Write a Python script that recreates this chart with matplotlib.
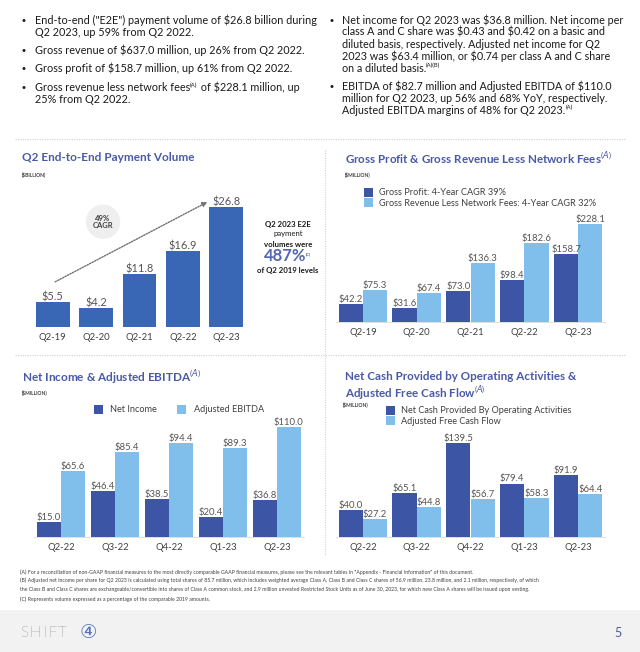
import matplotlib
matplotlib.use("Agg")
import matplotlib.pyplot as plt
from matplotlib.patches import Rectangle
from matplotlib.lines import Line2D
import numpy as np

plt.rcParams['font.family'] = ['Lato', 'DejaVu Sans']
plt.rcParams['mathtext.fontset'] = 'custom'
plt.rcParams['mathtext.rm'] = 'Lato'

W, H = 640, 652

# data
vol_q = ['Q2-19', 'Q2-20', 'Q2-21', 'Q2-22', 'Q2-23']
vol = [5.5, 4.2, 11.8, 16.9, 26.8]

gp_q = ['Q2-19', 'Q2-20', 'Q2-21', 'Q2-22', 'Q2-23']
gross_profit = [42.2, 31.6, 73.0, 98.4, 158.7]
gross_rev_less_fees = [75.3, 67.4, 136.3, 182.6, 228.1]

qtr = ['Q2-22', 'Q3-22', 'Q4-22', 'Q1-23', 'Q2-23']
net_income = [15.0, 46.4, 38.5, 20.4, 36.8]
adj_ebitda = [65.6, 85.4, 94.4, 89.3, 110.0]
op_cash = [40.0, 65.1, 139.5, 79.4, 91.9]
adj_fcf = [27.2, 44.8, 56.7, 58.3, 64.4]

DARK = '#3D55A5'
LIGHT = '#80BEEB'
VOLBLUE = '#3A66B6'
TITLE = '#4A5AA6'
LBL = '#555555'
TXT = '#1a1a1a'


def px(x0, y0, x1, y1):
    return [x0 / W, 1 - y1 / H, (x1 - x0) / W, (y1 - y0) / H]


def ftext(x, y, s, **kw):
    kw.setdefault('va', 'center')
    return fig.text(x / W, 1 - y / H, s, **kw)


def style(ax, labels, fs=6.8):
    for s in ['top', 'right', 'left']:
        ax.spines[s].set_visible(False)
    ax.spines['bottom'].set_color('#d9d9d9')
    ax.spines['bottom'].set_linewidth(0.6)
    ax.set_yticks([])
    ax.set_xticks(range(len(labels)))
    ax.set_xticklabels(labels, fontsize=fs, color='#404040')
    ax.tick_params(axis='x', length=0, pad=4)
    ax.set_xlim(-0.5, len(labels) - 0.5)
    ax.patch.set_alpha(0)


def labels(ax, bars, vals, fs=6.8):
    for b, v in zip(bars, vals):
        ax.text(b.get_x() + b.get_width() / 2, b.get_height(), '$%.1f' % v,
                ha='center', va='bottom', fontsize=fs, color=LBL)


fig = plt.figure(figsize=(W / 100, H / 100), dpi=100)

# bullet text, (text, superscript) per line
left_bul = [
    [('End-to-end ("E2E") payment volume of $26.8 billion during', ''), ('Q2 2023, up 59% from Q2 2022.', '')],
    [('Gross revenue of $637.0 million, up 26% from Q2 2022.', '')],
    [('Gross profit of $158.7 million, up 61% from Q2 2022.', '')],
    [('Gross revenue less network fees', '(A)', ' of $228.1 million, up'), ('25% from Q2 2022.', '')],
]
right_bul = [
    [('Net income for Q2 2023 was $36.8 million. Net income per', ''),
     ('class A and C share was $0.43 and $0.42 on a basic and', ''),
     ('diluted basis, respectively. Adjusted net income for Q2', ''),
     ('2023 was $63.4 million, or $0.74 per class A and C share', ''),
     ('on a diluted basis.', '(A)(B)')],
    [('EBITDA of $82.7 million and Adjusted EBITDA of $110.0', ''),
     ('million for Q2 2023, up 56% and 68% YoY, respectively.', ''),
     ('Adjusted EBITDA margins of 48% for Q2 2023.', '(A)')],
]


def sup_line(x, y, parts, fs):
    # draws text pieces with small raised superscripts, left to right
    r = fig.canvas.get_renderer()
    for i, p in enumerate(parts):
        if not p:
            continue
        p = p.replace('$', r'\$')
        if i % 2 == 1:
            t = ftext(x, y - 4, p, fontsize=fs * 0.55, color=TXT, va='baseline')
        else:
            t = ftext(x, y, p, fontsize=fs, color=TXT, va='baseline')
        x += t.get_window_extent(r).width


def bullets(items, xb, xt, y0, lh, gap, fs):
    y = y0
    for item in items:
        ftext(xb, y - 3, '\u2022', fontsize=7.5, color=TXT, family='DejaVu Sans')
        for line in item:
            sup_line(xt, y, line, fs)
            y += lh
        y += gap


bullets(left_bul, 21, 35, 23.5, 12, 6.5, 7.85)
bullets(right_bul, 329, 342, 23.5, 12, 6, 7.75)

# dividers
fig.add_artist(Line2D([15 / W, 625 / W], [1 - 139 / H] * 2, color='#d0d0d0', lw=0.8, ls=(0, (1, 1.2))))
fig.add_artist(Line2D([15 / W, 625 / W], [1 - 355 / H] * 2, color='#d0d0d0', lw=0.8, ls=(0, (1, 1.2))))
fig.add_artist(Line2D([325 / W] * 2, [1 - 150 / H, 1 - 555 / H], color='#d0d0d0', lw=0.8, ls=(0, (1, 1.2))))

# panel 1: payment volume
ax1 = fig.add_axes(px(31, 190, 248, 327))
b = ax1.bar(range(5), vol, width=0.78, color=VOLBLUE)
style(ax1, vol_q)
ax1.set_ylim(0, 30.6)
ax1.spines['bottom'].set_visible(False)
labels(ax1, b, vol, fs=7.9)
ax1.annotate('', xy=(3.62, 28.2), xytext=(0, 9.8),
             arrowprops=dict(arrowstyle='-|>', color='#707070', lw=1, ls=(0, (1, 1)),
                             mutation_scale=7))
ax1.text(1.16, 23.5, '49%\nCAGR', ha='center', va='center', fontsize=5.5, fontweight='bold',
         color='#404040', linespacing=1.0,
         bbox=dict(boxstyle='circle,pad=0.9', fc='#EFEFEF', ec='none'))
ftext(22, 158, 'Q2 End-to-End Payment Volume', fontsize=8.5, fontweight='bold', color=TITLE)
ftext(22, 175, '($BILLION)', fontsize=3.6, fontweight='bold', color='#404040')
ftext(288, 224, 'Q2 2023 E2E', fontsize=5.6, fontweight='bold', color=TXT, ha='center')
ftext(288, 234, 'payment', fontsize=5.6, color=TXT, ha='center')
ftext(288, 244, 'volumes were', fontsize=5.6, fontweight='bold', color=TXT, ha='center')
ftext(285, 256, '487%', fontsize=12, fontweight='bold', color='#5565B0', ha='center')
ftext(306, 254, '(C)', fontsize=3, color=TXT)
ftext(288, 270, 'of Q2 2019 levels', fontsize=5.6, fontweight='bold', color=TXT, ha='center')

# panel 2: gross profit
x = np.arange(5)
ax2 = fig.add_axes(px(336, 205, 605, 322))
b1 = ax2.bar(x - 0.225, gross_profit, width=0.45, color=DARK, label='Gross Profit: 4-Year CAGR 39%')
b2 = ax2.bar(x + 0.225, gross_rev_less_fees, width=0.45, color=LIGHT,
             label='Gross Revenue Less Network Fees: 4-Year CAGR 32%')
style(ax2, gp_q)
ax2.set_ylim(0, 272)
labels(ax2, b1, gross_profit)
labels(ax2, b2, gross_rev_less_fees)
ftext(345, 158, 'Gross Profit & Gross Revenue Less Network Fees$^{(A)}$', fontsize=8.4,
      fontweight='bold', color=TITLE)
ftext(345, 175, '($MILLION)', fontsize=3.6, fontweight='bold', color='#404040')
ax2.legend(loc='upper left', bbox_to_anchor=(359 / W, 1 - 183 / H), bbox_transform=fig.transFigure,
           frameon=False, fontsize=6.6, handlelength=1.0, handleheight=1.2, labelspacing=0.05,
           borderpad=0, handletextpad=0.7, labelcolor='#404040')

# panel 3: net income & adjusted EBITDA
ax3 = fig.add_axes(px(34, 415, 304, 537))
b1 = ax3.bar(x - 0.22, net_income, width=0.44, color=DARK, label='Net Income')
b2 = ax3.bar(x + 0.22, adj_ebitda, width=0.44, color=LIGHT, label='Adjusted EBITDA')
style(ax3, qtr)
ax3.set_ylim(0, 122)
labels(ax3, b1, net_income)
labels(ax3, b2, adj_ebitda)
ftext(22, 377, 'Net Income & Adjusted EBITDA$^{(A)}$', fontsize=8.5, fontweight='bold', color=TITLE)
ftext(22, 393, '($MILLION)', fontsize=3.6, fontweight='bold', color='#404040')
ax3.legend(loc='upper left', bbox_to_anchor=(89 / W, 1 - 400 / H), bbox_transform=fig.transFigure,
           frameon=False, fontsize=6.6, ncol=2, handlelength=1.0, handleheight=1.2,
           borderpad=0, handletextpad=0.8, columnspacing=2.2, labelcolor='#404040')

# panel 4: operating cash flow & adjusted FCF
ax4 = fig.add_axes(px(336, 430, 605, 537))
b1 = ax4.bar(x - 0.225, op_cash, width=0.45, color=DARK, label='Net Cash Provided By Operating Activities')
b2 = ax4.bar(x + 0.225, adj_fcf, width=0.45, color=LIGHT, label='Adjusted Free Cash Flow')
style(ax4, qtr)
ax4.set_ylim(0, 158.8)
labels(ax4, b1, op_cash)
labels(ax4, b2, adj_fcf)
ftext(345, 377, 'Net Cash Provided by Operating Activities &', fontsize=8.4, fontweight='bold', color=TITLE)
ftext(345, 393, 'Adjusted Free Cash Flow$^{(A)}$', fontsize=8.4, fontweight='bold', color=TITLE)
ftext(343, 405, '($MILLION)', fontsize=3.6, fontweight='bold', color='#404040')
ax4.legend(loc='upper left', bbox_to_anchor=(381 / W, 1 - 401 / H), bbox_transform=fig.transFigure,
           frameon=False, fontsize=6.6, handlelength=1.0, handleheight=1.2, labelspacing=0.05,
           borderpad=0, handletextpad=0.7, labelcolor='#404040')

# footnotes
notes = [
    '(A) For a reconciliation of non-GAAP financial measures to the most directly comparable GAAP financial measures, please see the relevant tables in "Appendix - Financial Information" of this document.',
    '(B) Adjusted net income per share for Q2 2023 is calculated using total shares of 85.7 million, which includes weighted average Class A, Class B and Class C shares of 56.9 million, 23.8 million, and 2.1 million, respectively, of which',
    'the Class B and Class C shares are exchangeable/convertible into shares of Class A common stock, and 2.9 million unvested Restricted Stock Units as of June 30, 2023, for which new Class A shares will be issued upon vesting.',
    '(C) Represents volume expressed as a percentage of the comparable 2019 amounts.',
]
for i, n in enumerate(notes):
    ftext(20, 572 + i * 8.5 + (2 if i == 3 else 0), n, fontsize=3.7, color='#404040')

# footer
fig.add_artist(Rectangle((0, 0), 1, 1 - 610 / H, transform=fig.transFigure, fc='#F2F2F2', ec='none'))
for ch, lx in zip('SHIFT', [24, 35, 45, 53, 62]):
    ftext(lx, 633, ch, fontsize=11, fontweight='light', color='#333333', ha='center')
ftext(88, 633, '\u2463', fontsize=14, color='#5673B8', family='DejaVu Sans', ha='center')
ftext(614, 633, '5', fontsize=9, color=TITLE)

fig.savefig('out.png', dpi=100)
